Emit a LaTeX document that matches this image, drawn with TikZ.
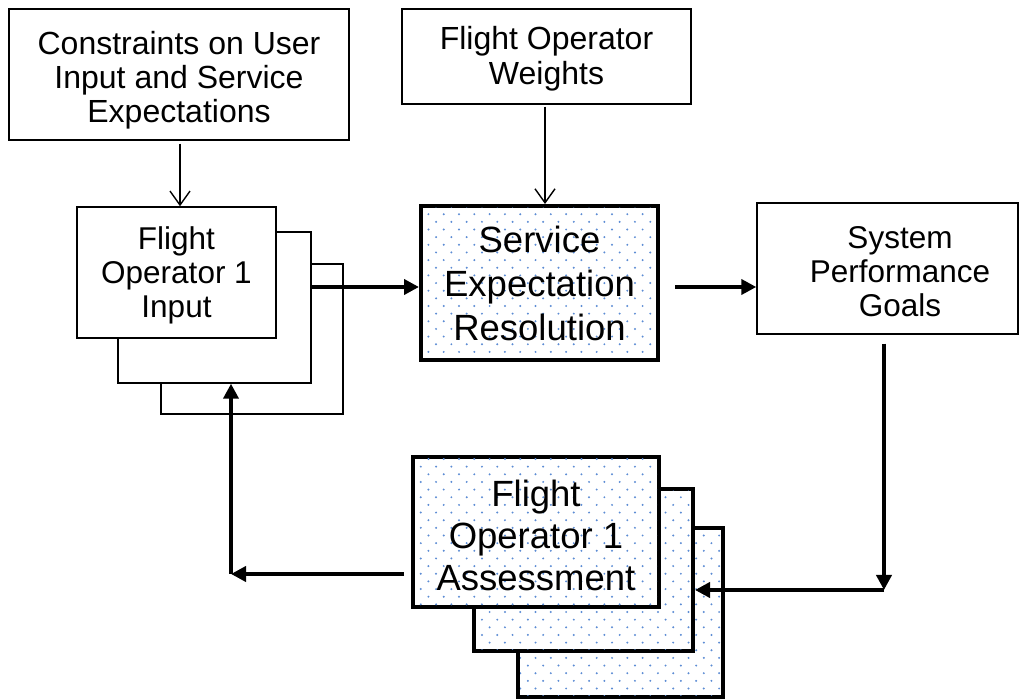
\documentclass[tikz,border=0pt]{standalone}
\usepackage{fontspec}
\setmainfont{Liberation Sans}
\usetikzlibrary{arrows.meta}

\definecolor{dotblue}{RGB}{92,140,212}

% light blue stippling, clipped to a rectangle given by two corners
\newcommand\stipple[4]{%
  \begin{scope}
    \clip (#1,#2) rectangle (#3,#4);
    \pgfmathtruncatemacro\kA{floor(#2/7.65)}
    \pgfmathtruncatemacro\kB{ceil(#4/7.65)}
    \pgfmathtruncatemacro\mA{floor(#1/15.3)-1}
    \pgfmathtruncatemacro\mB{ceil(#3/15.3)}
    \foreach \k in {\kA,...,\kB}{
      \foreach \m in {\mA,...,\mB}{
        \fill[dotblue] ({\m*15.3+mod(\k,2)*7.65},{\k*7.65}) circle[radius=1.1pt];
      }
    }
  \end{scope}}

\tikzset{
  thinbox/.style={draw=black, line width=1.4pt, fill=white, inner sep=0pt},
  thickbox/.style={draw=black, line width=4pt, fill=white, inner sep=0pt},
  lbl/.style 2 args={font=\fontsize{#1}{#2}\selectfont, align=center, inner sep=0pt},
  thinarrow/.style={line width=1.4pt, -{Straight Barb[length=14pt,width=20pt]}},
  thickarrow/.style={line width=4pt, -{Triangle[length=15pt,width=15pt]}},
}

\begin{document}
\begin{tikzpicture}[x=1pt,y=-1pt]
  \useasboundingbox (0,0) rectangle (1029,700);

  % top inputs
  \node[thinbox, minimum width=340pt, minimum height=131pt] (cons) at (179,74.5) {};
  \node[lbl={32}{34}] (consT) at (179,82.2)
    {\strut Constraints on User\\Input and Service\\Expectations\strut};

  \node[thinbox, minimum width=289pt, minimum height=95pt] (wts) at (546.5,56.5) {};
  \node[lbl={32}{35}] (wtsT) at (546.5,60.5) {\strut Flight Operator\\Weights\strut};

  % stacked flight operator input sheets, back to front
  \node[thinbox, minimum width=182pt, minimum height=150pt] (in3) at (252,339) {};
  \node[thinbox, minimum width=193pt, minimum height=151pt] (in2) at (214.5,307.5) {};
  \node[thinbox, minimum width=199pt, minimum height=131pt] (in1) at (176.5,272.5) {};
  \node[lbl={31.5}{34}] (inT) at (176.5,277.2) {\strut Flight\\Operator 1\\Input\strut};

  % resolution step
  \node[thickbox, minimum width=237pt, minimum height=154pt] (svc) at (539.5,283) {};
  \stipple{423}{208}{656}{358}
  \node[lbl={36.5}{44}] (svcT) at (539.5,287.9) {\strut Service\\Expectation\\Resolution\strut};

  % goals
  \node[thinbox, minimum width=261pt, minimum height=131pt] (goals) at (887.5,268.5) {};
  \node[lbl={31.5}{34}] (goalsT) at (900,275.5) {\strut System\\Performance\\Goals\strut};

  % stacked assessment sheets, back to front
  \node[thickbox, minimum width=205pt, minimum height=169pt] (as3) at (620.5,612.5) {};
  \stipple{520}{530}{721}{695}
  \node[thickbox, minimum width=219pt, minimum height=162pt] (as2) at (583.5,570) {};
  \stipple{476}{491}{691}{649}
  \node[thickbox, minimum width=246pt, minimum height=150pt] (as1) at (536,532) {};
  \stipple{415}{459}{657}{605}
  \node[lbl={36.5}{42}] (asT) at (536,540.3) {\strut Flight\\Operator 1\\Assessment\strut};

  % routing points
  \coordinate (aY) at (0,287);
  \coordinate (gCorner) at (884,590);
  \coordinate (lCorner) at (231,574);

  % connectors
  \draw[thinarrow] ([yshift=-3pt]cons.south -| 180,0) -- (in1.north -| 180,0);
  \draw[thinarrow] ([yshift=-2pt]wts.south -| 545,0) -- (svc.north -| 545,0);
  \draw[thickarrow] (in2.east |- aY) -- (svc.west |- aY);
  \draw[thickarrow] ([xshift=15pt]svc.east |- aY) -- (goals.west |- aY);
  \draw[thickarrow] ([yshift=-9pt]goals.south -| gCorner) -- (gCorner);
  \draw[thickarrow] (gCorner) -- (as2.east |- gCorner);
  \draw[thickarrow] ([xshift=-7pt]as1.west |- lCorner) -- (lCorner);
  \draw[thickarrow] (lCorner) -- (lCorner |- in2.south);
\end{tikzpicture}
\end{document}
